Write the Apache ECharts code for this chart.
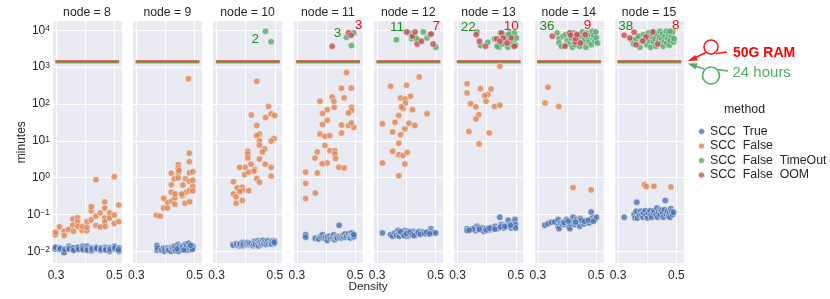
<!DOCTYPE html>
<html><head><meta charset="utf-8">
<script src="https://cdn.jsdelivr.net/npm/echarts@6/dist/echarts.min.js"></script>
<style>html,body{margin:0;padding:0;background:#fff}#c{width:830px;height:299px}</style>
</head><body><div id="c"></div><script>
const nodes = [8, 9, 10, 11, 12, 13, 14, 15];
const methods = ['SCC  True', 'SCC  False', 'SCC  False  TimeOut', 'SCC  False  OOM'];
const xTickLabels = ['0.3', '0.5'];
const yTickExponents = [-2, -1, 0, 1, 2, 3, 4];
const xLabel = 'Density', yLabel = 'minutes';
const limitSpan = [0.2977, 0.5166];
const memLimitMinutes = 1440;   // 50G RAM line
const timeLimitMinutes = 1330;  // 24 hours line

// ---- node 8 ----
const true8 = [[0.297,0.0123],[0.297,0.0116],[0.299,0.0128],[0.313,0.0123],[0.313,0.0111],[0.315,0.0118],[0.328,0.0100],[0.328,0.0092],[0.330,0.0113],[0.344,0.0137],[0.344,0.0123],[0.346,0.0116],[0.359,0.0111],[0.359,0.0123],[0.361,0.0106],[0.375,0.0123],[0.375,0.0129],[0.377,0.0113],[0.391,0.0137],[0.391,0.0123],[0.393,0.0110],[0.406,0.0137],[0.406,0.0116],[0.408,0.0106],[0.422,0.0104],[0.422,0.0123],[0.424,0.0115],[0.438,0.0128],[0.438,0.0116],[0.440,0.0121],[0.453,0.0123],[0.453,0.0106],[0.455,0.0115],[0.469,0.0128],[0.469,0.0116],[0.471,0.0109],[0.484,0.0123],[0.484,0.0100],[0.486,0.0113],[0.500,0.0137],[0.500,0.0116],[0.502,0.0124],[0.516,0.0123],[0.516,0.0100],[0.514,0.0110]];
const false8 = [[0.298,0.028],[0.298,0.033],[0.312,0.046],[0.328,0.035],[0.328,0.027],[0.343,0.039],[0.358,0.075],[0.358,0.051],[0.360,0.035],[0.374,0.081],[0.374,0.063],[0.375,0.047],[0.389,0.037],[0.391,0.047],[0.406,0.063],[0.406,0.036],[0.406,0.045],[0.421,0.072],[0.421,0.127],[0.421,0.163],[0.437,0.88],[0.437,0.090],[0.437,0.050],[0.452,0.110],[0.452,0.046],[0.467,0.219],[0.467,0.150],[0.467,0.080],[0.467,0.063],[0.469,0.047],[0.484,0.110],[0.484,0.080],[0.500,1.06],[0.500,0.096],[0.500,0.057],[0.515,0.181],[0.515,0.064]];
const timeout8 = [];
const oom8 = [];
// ---- node 9 ----
const true9 = [[0.371,0.0143],[0.371,0.0106],[0.373,0.0123],[0.385,0.0106],[0.387,0.0111],[0.394,0.0123],[0.396,0.0100],[0.398,0.0116],[0.407,0.0123],[0.409,0.0111],[0.411,0.0106],[0.419,0.0100],[0.422,0.0128],[0.424,0.0118],[0.430,0.0137],[0.430,0.0118],[0.432,0.0125],[0.434,0.0104],[0.443,0.0152],[0.445,0.0123],[0.445,0.0100],[0.447,0.0137],[0.457,0.0137],[0.460,0.0118],[0.458,0.0128],[0.468,0.0152],[0.471,0.0123],[0.474,0.0106],[0.472,0.0140],[0.479,0.0165],[0.483,0.0137],[0.483,0.0111],[0.481,0.0125],[0.491,0.0123],[0.494,0.0137],[0.494,0.0123],[0.492,0.0113],[0.486,0.0145],[0.463,0.0108],[0.440,0.0116]];
const false9 = [[0.369,0.095],[0.382,0.089],[0.394,0.275],[0.394,0.15],[0.407,0.21],[0.407,0.15],[0.422,0.23],[0.420,0.645],[0.420,1.31],[0.420,0.40],[0.430,0.93],[0.432,0.28],[0.432,0.19],[0.444,2.25],[0.444,1.8],[0.444,1.33],[0.444,0.98],[0.446,1.55],[0.458,0.32],[0.469,0.93],[0.471,0.40],[0.467,0.20],[0.479,487],[0.482,4.6],[0.482,2.7],[0.482,1.36],[0.482,0.80],[0.483,0.45],[0.483,0.22],[0.494,1.45],[0.494,0.85],[0.494,0.58],[0.494,0.44],[0.460,0.63],[0.456,0.36],[0.433,0.36]];
const timeout9 = [];
const oom9 = [];
// ---- node 10 ----
const true10 = [[0.356,0.0152],[0.358,0.0145],[0.367,0.0160],[0.369,0.0150],[0.377,0.0140],[0.379,0.0152],[0.381,0.0160],[0.390,0.0172],[0.390,0.0142],[0.392,0.0156],[0.402,0.0152],[0.404,0.0162],[0.407,0.0173],[0.411,0.0152],[0.413,0.0165],[0.419,0.0160],[0.425,0.0142],[0.427,0.0155],[0.430,0.0187],[0.432,0.0168],[0.434,0.0152],[0.442,0.0194],[0.442,0.0160],[0.444,0.0140],[0.446,0.0176],[0.450,0.0173],[0.453,0.0152],[0.455,0.0165],[0.459,0.0200],[0.461,0.0168],[0.463,0.0158],[0.468,0.0187],[0.470,0.0152],[0.472,0.0170],[0.476,0.0192],[0.478,0.0160],[0.484,0.0168],[0.487,0.0180],[0.489,0.0158],[0.493,0.0192],[0.499,0.0187],[0.499,0.0165],[0.497,0.0175]];
const false10 = [[0.438,412],[0.419,50],[0.478,85],[0.468,43],[0.487,54],[0.499,49],[0.438,26],[0.447,15.4],[0.438,14],[0.497,11.5],[0.487,9.8],[0.447,10],[0.447,7.6],[0.465,6.0],[0.457,5.0],[0.407,5.2],[0.407,4.4],[0.407,3.4],[0.418,2.3],[0.430,1.66],[0.428,1.5],[0.447,3.2],[0.467,2.3],[0.487,1.9],[0.487,1.1],[0.398,1.9],[0.379,1.9],[0.396,1.2],[0.410,1.4],[0.438,0.94],[0.447,0.75],[0.358,0.77],[0.371,0.53],[0.388,0.55],[0.388,0.45],[0.410,0.44],[0.358,0.36],[0.379,0.42],[0.367,0.30],[0.367,0.20],[0.388,0.24]];
const timeout10 = [[0.468,9400],[0.487,4900]];
const oom10 = [];
// ---- node 11 ----
const true11 = [[0.330,0.0283],[0.330,0.0240],[0.362,0.0221],[0.364,0.0230],[0.373,0.0230],[0.375,0.0215],[0.381,0.0255],[0.383,0.0240],[0.388,0.0283],[0.390,0.0230],[0.396,0.0221],[0.398,0.0240],[0.404,0.0230],[0.404,0.0195],[0.406,0.0250],[0.413,0.0255],[0.415,0.0225],[0.421,0.0230],[0.423,0.0245],[0.427,0.0283],[0.430,0.0207],[0.432,0.0240],[0.436,0.0245],[0.438,0.0228],[0.445,0.0508],[0.445,0.0255],[0.447,0.0232],[0.453,0.0230],[0.455,0.0250],[0.459,0.0272],[0.461,0.0240],[0.465,0.0296],[0.468,0.0240],[0.470,0.0260],[0.476,0.0296],[0.479,0.0255],[0.481,0.0238],[0.484,0.0230],[0.487,0.0315],[0.489,0.0262],[0.491,0.0272],[0.493,0.0240],[0.495,0.0255],[0.495,0.0285]];
const false11 = [[0.470,710],[0.453,266],[0.486,270],[0.421,155],[0.379,118],[0.462,146],[0.428,81],[0.404,70],[0.388,55],[0.427,118],[0.487,81],[0.487,66],[0.404,36],[0.388,27.5],[0.477,57],[0.477,26],[0.495,23],[0.487,30.5],[0.453,27],[0.453,16.3],[0.379,15.3],[0.396,13.3],[0.413,13.8],[0.396,7.5],[0.413,5.4],[0.430,5.4],[0.430,4.4],[0.370,5.0],[0.362,3.4],[0.404,2.5],[0.387,2.4],[0.433,3.3],[0.444,1.9],[0.462,1.83],[0.330,1.4],[0.330,0.69],[0.330,0.27],[0.370,1.34],[0.363,0.38]];
const timeout11 = [[0.470,6460],[0.495,8470],[0.487,3840]];
const oom11 = [[0.421,3680],[0.477,8650],[0.486,7310]];
// ---- node 12 ----
const true12 = [[0.318,0.0315],[0.346,0.0283],[0.353,0.0255],[0.361,0.0315],[0.366,0.0272],[0.372,0.0364],[0.374,0.0296],[0.376,0.0255],[0.383,0.0315],[0.389,0.0283],[0.395,0.0364],[0.398,0.0315],[0.403,0.0255],[0.406,0.0349],[0.409,0.0296],[0.414,0.0272],[0.418,0.0315],[0.423,0.0349],[0.429,0.0315],[0.435,0.0296],[0.444,0.0349],[0.452,0.0315],[0.458,0.0335],[0.467,0.0296],[0.475,0.0315],[0.484,0.0412],[0.486,0.0349],[0.492,0.0315],[0.501,0.0315],[0.380,0.0340],[0.392,0.0270],[0.400,0.0300],[0.412,0.0330],[0.420,0.0280],[0.427,0.0265],[0.440,0.0320],[0.448,0.0290],[0.462,0.0310],[0.470,0.0330],[0.480,0.0300]];
const false12 = [[0.444,541],[0.346,302],[0.401,321],[0.380,146],[0.414,161],[0.395,137],[0.397,106],[0.389,75],[0.383,83],[0.421,70],[0.471,54],[0.374,49],[0.361,32],[0.409,30],[0.429,26],[0.318,29],[0.395,21],[0.353,17.4],[0.380,14.7],[0.374,8.6],[0.353,5.2],[0.374,4.2],[0.389,4.0],[0.403,4.8],[0.395,2.35],[0.318,2.5],[0.374,1.13]];
const timeout12 = [[0.366,5580],[0.410,8470],[0.418,5940],[0.426,7310],[0.444,5240],[0.458,9010],[0.471,6200],[0.481,7620],[0.501,3450],[0.420,6870],[0.435,5940]];
const oom12 = [[0.401,9010],[0.421,6870],[0.430,9010],[0.437,4250],[0.452,5020],[0.485,7940],[0.492,4250]];
// ---- node 13 ----
const true13 = [[0.333,0.0412],[0.333,0.0364],[0.345,0.0387],[0.358,0.0430],[0.362,0.0364],[0.367,0.0478],[0.370,0.0412],[0.372,0.0440],[0.379,0.0387],[0.385,0.0430],[0.390,0.0349],[0.396,0.0412],[0.402,0.0364],[0.407,0.0430],[0.413,0.0387],[0.419,0.0449],[0.425,0.0412],[0.430,0.0478],[0.436,0.0412],[0.442,0.0430],[0.445,0.0838],[0.450,0.0530],[0.453,0.0449],[0.459,0.0430],[0.465,0.0508],[0.470,0.0478],[0.474,0.0695],[0.479,0.0530],[0.484,0.0430],[0.487,0.0553],[0.493,0.0478],[0.497,0.0724],[0.499,0.0530],[0.499,0.0430],[0.375,0.0395],[0.398,0.0380],[0.410,0.0420],[0.428,0.0400],[0.448,0.0460],[0.462,0.0470],[0.482,0.0500],[0.352,0.0400],[0.340,0.0375]];
const false13 = [[0.445,1055],[0.333,356],[0.333,199],[0.379,261],[0.415,255],[0.404,179],[0.393,168],[0.398,118],[0.345,102],[0.363,83],[0.427,86],[0.445,92],[0.373,51],[0.363,39],[0.339,18],[0.409,16.3],[0.374,8.2]];
const timeout13 = [[0.367,9010],[0.379,3840],[0.404,4720],[0.442,3450],[0.436,3680],[0.450,6200],[0.465,4530],[0.473,3450],[0.479,8470],[0.495,8470],[0.487,5940],[0.493,4820],[0.502,6200],[0.482,4250],[0.461,7310],[0.468,5940],[0.476,7620],[0.491,3680],[0.499,3920],[0.447,8470],[0.427,5820],[0.453,4250]];
const oom13 = [[0.364,7620],[0.375,5020],[0.396,3680],[0.434,5820],[0.451,8470],[0.457,6200],[0.470,4530],[0.495,3680],[0.445,5020],[0.484,6200]];
// ---- node 14 ----
const true14 = [[0.324,0.0508],[0.335,0.0563],[0.347,0.0611],[0.358,0.0625],[0.370,0.0724],[0.370,0.0478],[0.373,0.0412],[0.378,0.0587],[0.385,0.0530],[0.387,0.0625],[0.393,0.0530],[0.398,0.0724],[0.401,0.0587],[0.407,0.0478],[0.410,0.0412],[0.412,0.0553],[0.415,0.0652],[0.421,0.0838],[0.423,0.0625],[0.427,0.0530],[0.433,0.0724],[0.438,0.0587],[0.442,0.0680],[0.444,0.0478],[0.446,0.0771],[0.453,0.0625],[0.458,0.0553],[0.465,0.0680],[0.469,0.0625],[0.476,0.0587],[0.481,0.0680],[0.483,0.117],[0.487,0.0804],[0.495,0.0724],[0.501,0.0838],[0.390,0.0600],[0.404,0.0660],[0.430,0.0620],[0.450,0.0700],[0.460,0.0650],[0.474,0.0700],[0.490,0.0650]];
const false14 = [[0.335,283],[0.325,106],[0.372,85],[0.421,0.536],[0.483,0.462]];
const timeout14 = [[0.366,8470],[0.373,5940],[0.373,4530],[0.381,3680],[0.387,6870],[0.396,7620],[0.401,5240],[0.407,4250],[0.415,6200],[0.419,3450],[0.423,8470],[0.427,4080],[0.433,5940],[0.438,7940],[0.442,5020],[0.444,3680],[0.450,6870],[0.453,9010],[0.455,4530],[0.461,5940],[0.465,3450],[0.469,8470],[0.473,6460],[0.476,4820],[0.481,7620],[0.484,4080],[0.487,9390],[0.490,5940],[0.492,7310],[0.495,5020],[0.499,9010],[0.501,6200],[0.505,4530],[0.407,7940],[0.393,3920],[0.430,7310]];
const oom14 = [[0.350,6870],[0.393,3680],[0.410,8470],[0.413,7310],[0.428,4820],[0.430,5940],[0.435,7620],[0.463,7620],[0.446,4530]];
// ---- node 15 ----
const true15 = [[0.321,0.0838],[0.355,0.099],[0.358,0.080],[0.362,0.122],[0.364,0.214],[0.366,0.080],[0.373,0.095],[0.378,0.122],[0.381,0.099],[0.385,0.0838],[0.387,0.110],[0.393,0.127],[0.396,0.095],[0.401,0.080],[0.404,0.110],[0.410,0.127],[0.412,0.095],[0.415,0.0838],[0.421,0.110],[0.423,0.127],[0.430,0.099],[0.433,0.150],[0.435,0.0838],[0.438,0.117],[0.444,0.099],[0.446,0.135],[0.450,0.127],[0.453,0.110],[0.455,0.0838],[0.459,0.135],[0.462,0.238],[0.465,0.103],[0.469,0.122],[0.473,0.089],[0.476,0.110],[0.478,0.0838],[0.481,0.144],[0.484,0.122],[0.487,0.099],[0.490,0.115]];
const false15 = [[0.390,0.645],[0.397,0.57],[0.423,0.58],[0.481,0.56]];
const timeout15 = [[0.347,5580],[0.353,4250],[0.362,5940],[0.370,6870],[0.375,3450],[0.381,5020],[0.387,7620],[0.393,5940],[0.398,4080],[0.404,8470],[0.407,5240],[0.412,3450],[0.415,6870],[0.421,4820],[0.423,9010],[0.427,5940],[0.430,3680],[0.433,7940],[0.438,5020],[0.442,6460],[0.444,9390],[0.446,4250],[0.450,5940],[0.453,7940],[0.455,3680],[0.459,5020],[0.461,6870],[0.465,9390],[0.467,4530],[0.470,5940],[0.473,7940],[0.476,3920],[0.478,5240],[0.484,6870],[0.487,9010],[0.490,4820],[0.492,5940],[0.478,9390]];
const oom15 = [[0.321,7310],[0.355,8830],[0.362,4080],[0.396,6590],[0.419,9010],[0.436,4250],[0.385,5130],[0.340,6200]];

const perNode = [
  [true8, false8, timeout8, oom8], [true9, false9, timeout9, oom9],
  [true10, false10, timeout10, oom10], [true11, false11, timeout11, oom11],
  [true12, false12, timeout12, oom12], [true13, false13, timeout13, oom13],
  [true14, false14, timeout14, oom14], [true15, false15, timeout15, oom15]
];

// ---------- layout / style ----------
const FONT = "'Liberation Sans', Arial, sans-serif";
const TXT = '#262626';
const colors = ['#4C72B0', '#DD8452', '#55A868', '#C44E52'];
const G = { left0: 52, step: 80.3, width: 70, top: 20.7, height: 243 };
const X_MIN = 0.2863, X_MAX = 0.5264;
const Y_MIN = Math.pow(10, -2.337), Y_MAX = Math.pow(10, 4.261);
// count label offsets within panel [greenDx, greenDy, redDx, redDy]
const countPos = [null, null, [42.7, 19, 0, 0], [44.7, 13, 65.7, 4.5], [23.7, 6.8, 63, 6], [14.7, 6.5, 57.7, 6], [13.3, 6, 53.7, 4.5], [11.7, 6, 61.7, 4.5]];

const grid = [], xAxis = [], yAxis = [], series = [], graphic = [];
nodes.forEach((n, i) => {
  const left = G.left0 + G.step * i;
  grid.push({ left, top: G.top, width: G.width, height: G.height, show: true, backgroundColor: '#EAEAF2', borderWidth: 0 });
  xAxis.push({
    type: 'value', gridIndex: i, min: X_MIN, max: X_MAX, splitNumber: 2, minInterval: 0.1, maxInterval: 0.1,
    axisLine: { show: false }, axisTick: { show: false },
    splitLine: { show: true, lineStyle: { color: '#ffffff', width: 1 } },
    axisLabel: {
      color: TXT, fontSize: 12, fontFamily: FONT, margin: 6, showMinLabel: true, showMaxLabel: true,
      formatter: v => { const m = xTickLabels.find(t => Math.abs(parseFloat(t) - v) < 1e-6); return m || ''; }
    }
  });
  yAxis.push({
    type: 'log', logBase: 10, gridIndex: i, min: Y_MIN, max: Y_MAX,
    axisLine: { show: false }, axisTick: { show: false },
    splitLine: { show: true, lineStyle: { color: '#ffffff', width: 1 } },
    name: i === 0 ? yLabel : '', nameLocation: 'middle', nameGap: 24, nameMoveOverlap: false,
    nameTextStyle: { color: TXT, fontSize: 12, fontFamily: FONT },
    axisLabel: {
      show: i === 0, margin: 2, fontFamily: FONT,
      formatter: v => {
        const l = Math.log10(v), e = Math.round(l);
        if (Math.abs(l - e) > 1e-6 || yTickExponents.indexOf(e) < 0) return '';
        return '{b|10}{s|' + (e < 0 ? '\u2212' + (-e) : e) + '}';
      },
      rich: {
        b: { fontSize: 12, lineHeight: 12, color: TXT, fontFamily: FONT, verticalAlign: 'bottom' },
        s: { fontSize: 8.5, lineHeight: 9, color: TXT, fontFamily: FONT, verticalAlign: 'top', padding: [0, 0, 9, 0] }
      }
    }
  });
  // limit lines
  series.push({ type: 'line', xAxisIndex: i, yAxisIndex: i, silent: true, symbol: 'none', z: 1,
    data: [[limitSpan[0], timeLimitMinutes], [limitSpan[1], timeLimitMinutes]], lineStyle: { color: '#5cb85c', width: 2 } });
  series.push({ type: 'line', xAxisIndex: i, yAxisIndex: i, silent: true, symbol: 'none', z: 1,
    data: [[limitSpan[0], memLimitMinutes], [limitSpan[1], memLimitMinutes]], lineStyle: { color: '#e8453c', width: 2 } });
  perNode[i].forEach((arr, k) => {
    series.push({
      type: 'scatter', name: methods[k], xAxisIndex: i, yAxisIndex: i, data: arr, symbolSize: 6.5, z: 3,
      itemStyle: { color: colors[k], opacity: 0.8, borderColor: '#ffffff', borderWidth: 0.6 }
    });
  });
  const cx = left + G.width / 2;
  graphic.push({ type: 'text', x: cx, y: 13, z: 10, style: { text: 'node = ' + n, align: 'center', verticalAlign: 'middle', font: '12.2px ' + FONT, fill: TXT } });
  const cp = countPos[i];
  if (cp && perNode[i][2].length) graphic.push({ type: 'text', x: left + cp[0], y: G.top + cp[1], z: 10, style: { text: String(perNode[i][2].length), align: 'center', verticalAlign: 'middle', font: '13.5px ' + FONT, fill: '#1f8f1f' } });
  if (cp && perNode[i][3].length) graphic.push({ type: 'text', x: left + cp[2], y: G.top + cp[3], z: 10, style: { text: String(perNode[i][3].length), align: 'center', verticalAlign: 'middle', font: '13.5px ' + FONT, fill: '#ee1111' } });
});

// x axis label centred between panels 4 and 5
const midX = (G.left0 + G.step * 3 + G.width + G.left0 + G.step * 4) / 2;
graphic.push({ type: 'text', x: midX, y: 286.7, style: { text: xLabel, align: 'center', verticalAlign: 'middle', font: '11.8px ' + FONT, fill: TXT } });
// legend title
graphic.push({ type: 'text', x: 744.5, y: 109.3, style: { text: 'method', align: 'center', verticalAlign: 'middle', font: '12.3px ' + FONT, fill: TXT } });
// annotations
graphic.push({ type: 'text', x: 733, y: 52.7, style: { text: '50G RAM', align: 'left', verticalAlign: 'middle', font: 'bold 14px ' + FONT, fill: '#ff0000' } });
graphic.push({ type: 'text', x: 732.5, y: 72.7, style: { text: '24 hours', align: 'left', verticalAlign: 'middle', font: '15px ' + FONT, fill: '#4fae5f' } });
const redS = { stroke: '#ff1a1a', lineWidth: 1.6, fill: null };
const grnS = { stroke: '#4fae5f', lineWidth: 1.6, fill: null };
graphic.push({ type: 'circle', shape: { cx: 711, cy: 47, r: 7 }, style: redS });
graphic.push({ type: 'polyline', shape: { points: [[727, 52], [716, 53.5]] }, style: redS });
graphic.push({ type: 'polyline', shape: { points: [[706, 52.5], [695, 57.8]] }, style: redS });
graphic.push({ type: 'polygon', shape: { points: [[687.5, 61], [695.3, 54.9], [697.8, 60.4]] }, style: { fill: '#ff1a1a' } });
graphic.push({ type: 'circle', shape: { cx: 711, cy: 75.5, r: 8.5 }, style: grnS });
graphic.push({ type: 'polyline', shape: { points: [[728, 71], [717, 69.5]] }, style: grnS });
graphic.push({ type: 'polyline', shape: { points: [[704, 69], [695, 66]] }, style: grnS });
graphic.push({ type: 'polygon', shape: { points: [[687.5, 63.5], [697.6, 63.3], [695.6, 69.3]] }, style: { fill: '#4fae5f' } });

const chart = echarts.init(document.getElementById('c'), null, { renderer: 'canvas' });
chart.setOption({
  animation: false,
  backgroundColor: '#ffffff',
  grid, xAxis, yAxis, series, graphic,
  legend: {
    data: methods, orient: 'vertical', left: 692, top: 120.5, icon: 'circle', itemWidth: 7, itemHeight: 7, itemGap: 2.5,
    selectedMode: false, textStyle: { color: TXT, fontSize: 12.3, fontFamily: FONT }
  }
});
</script></body></html>
